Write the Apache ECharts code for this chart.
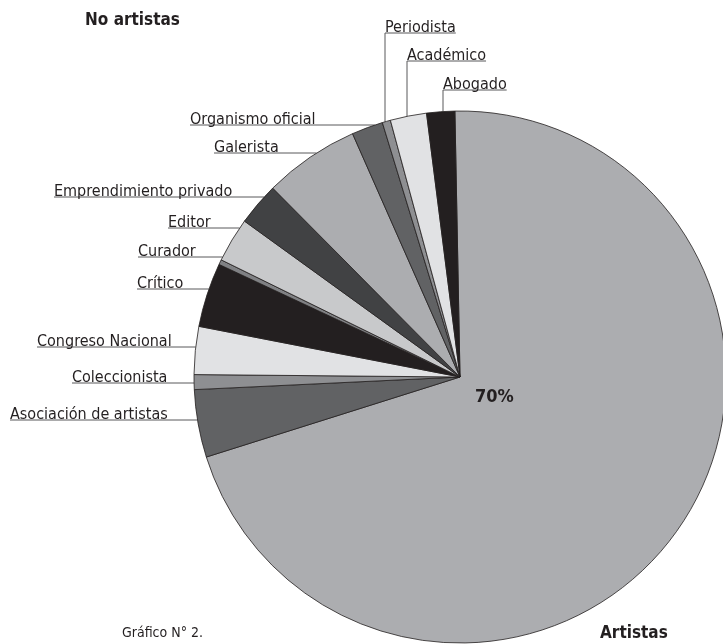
<!DOCTYPE html>
<html>
<head>
<meta charset="utf-8">
<script src="https://cdn.jsdelivr.net/npm/echarts@6/dist/echarts.min.js"></script>
<style>
html,body{margin:0;padding:0;background:#fff;}
#chart{width:723px;height:644px;}
</style>
</head>
<body>
<div id="chart"></div>
<script>
// ---- data (share of respondents, %) ----
var categories = ['Artistas', 'Asociación de artistas', 'Coleccionista', 'Congreso Nacional', 'Crítico', 'Curador', 'Editor', 'Emprendimiento privado', 'Galerista', 'Organismo oficial', 'Periodista', 'Académico', 'Abogado'];
var values = [70.3, 4.1, 0.9, 2.9, 3.9, 0.3, 2.7, 2.6, 5.8, 1.9, 0.5, 2.2, 1.7];
var artistasLabel = '70%';
var groupTitles = ['No artistas', 'Artistas'];
var captionText = 'Gráfico N° 2.';

// ---- styles / layout (kept separate from data) ----
var sliceColors = ['#acadb0', '#616264', '#8e8f92', '#e1e2e4', '#231f20', '#808184', '#c8c9cb', '#414244', '#acadb0', '#616264', '#8e8f92', '#e1e2e4', '#231f20'];
var CX = 460, CY = 377, R = 266;
var FONT = "'Liberation Sans Narrow', 'DejaVu Sans Condensed', 'Roboto Condensed', sans-serif";
// label anchors: [text left x, underline y, type]  type 'L' = leader from left edge, 'T' = leader from top
var labelAnchors = [
  [475, 406, 'C'],
  [10, 420, 'L'],
  [72, 383, 'L'],
  [37, 347, 'L'],
  [137, 289, 'L'],
  [138, 257, 'L'],
  [168, 228, 'L'],
  [54, 197, 'L'],
  [214, 153, 'L'],
  [190, 125, 'L'],
  [385, 33, 'T'],
  [407, 61, 'T'],
  [443, 90, 'T']
];

var chart = echarts.init(document.getElementById('chart'), null, {renderer: 'canvas'});

var pieData = categories.map(function (name, i) {
  var item = {name: name, value: values[i], itemStyle: {color: sliceColors[i]}};
  if (i === 0) {
    item.label = {formatter: artistasLabel, fontWeight: 'bold', fontSize: 18};
    item.labelLine = {show: false};
  }
  return item;
});

var option = {
  animation: false,
  backgroundColor: '#ffffff',
  textStyle: {fontFamily: FONT},
  graphic: [
    {type: 'text', left: 85, top: 12, style: {text: groupTitles[0], font: 'bold 17px ' + FONT, fill: '#231f20'}},
    {type: 'text', left: 600, top: 625, style: {text: groupTitles[1], font: 'bold 17px ' + FONT, fill: '#231f20'}},
    {type: 'text', left: 122, top: 626, style: {text: captionText, font: '14px ' + FONT, fill: '#231f20'}}
  ],
  series: [{
    type: 'pie',
    center: [CX, CY],
    radius: [0, R],
    startAngle: 91.1,
    clockwise: true,
    avoidLabelOverlap: false,
    itemStyle: {borderColor: '#231f20', borderWidth: 0.8},
    label: {
      show: true,
      position: 'outside',
      formatter: '{b}',
      fontFamily: FONT,
      fontSize: 16,
      color: '#231f20'
    },
    labelLine: {show: true, length: 0, length2: 0, smooth: false, lineStyle: {color: '#58595b', width: 1}},
    emphasis: {disabled: true},
    labelLayout: function (params) {
      var a = labelAnchors[params.dataIndex];
      var w = params.labelRect.width;
      var x = a[0], y = a[1];
      if (a[2] === 'C') {
        return {x: x, y: y, align: 'left', verticalAlign: 'bottom'};
      }
      var pts;
      if (a[2] === 'L') {
        var ex = CX - Math.sqrt(R * R - (y - CY) * (y - CY));
        pts = [[ex, y], [ex, y], [x, y]];
      } else {
        var ey = CY - Math.sqrt(R * R - (x - CX) * (x - CX));
        pts = [[x, ey], [x, y], [x + w, y]];
      }
      return {x: x, y: y + 3, align: 'left', verticalAlign: 'bottom', labelLinePoints: pts};
    },
    data: pieData
  }]
};
chart.setOption(option);
</script>
</body>
</html>
